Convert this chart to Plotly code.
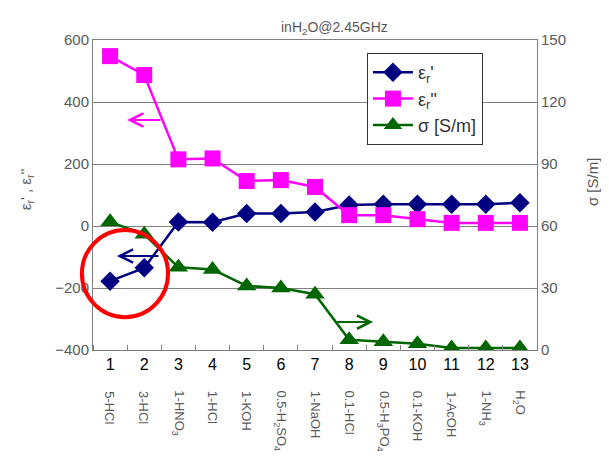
import plotly.graph_objects as go

categories = list(range(1, 14))
sample_labels = ["5-HCl", "3-HCl", "1-HNO<sub>3</sub>", "1-HCl", "1-KOH",
                 "0.5-H<sub>2</sub>SO<sub>4</sub>", "1-NaOH", "0.1-HCl",
                 "0.5-H<sub>3</sub>PO<sub>4</sub>", "0.1-KOH", "1-AcOH",
                 "1-NH<sub>3</sub>", "H<sub>2</sub>O"]
eps_real = [-178, -135, 13, 12, 40, 40, 45, 68, 70, 70, 70, 70, 75]
eps_imag = [548, 487, 215, 218, 145, 148, 126, 35, 35, 22, 10, 10, 10]
sigma = [62, 56, 40, 39, 31, 30, 27, 5, 4, 3, 1, 1, 1]

FONT = "Liberation Sans"
GRAY = "#595959"

fig = go.Figure()
fig.add_trace(go.Scatter(x=categories, y=eps_real, name="ε<sub>r</sub>'",
                         mode="lines+markers",
                         line=dict(color="#000080", width=2.5),
                         marker=dict(symbol="diamond", size=15, color="#000080")))
fig.add_trace(go.Scatter(x=categories, y=eps_imag, name="ε<sub>r</sub>''",
                         mode="lines+markers",
                         line=dict(color="#FF00FF", width=2.5),
                         marker=dict(symbol="square", size=16, color="#FF00FF")))
fig.add_trace(go.Scatter(x=categories, y=sigma, name="σ [S/m]", yaxis="y2",
                         mode="lines+markers",
                         line=dict(color="#006600", width=2.5),
                         marker=dict(symbol="triangle-up", size=17, color="#006600")))

annotations = []
for c, lab in zip(categories, sample_labels):
    annotations.append(dict(x=c, y=-0.125, xref="x", yref="paper", text=lab,
                            textangle=90, showarrow=False, xanchor="center",
                            yanchor="top", font=dict(family=FONT, size=13, color=GRAY)))

# direction arrows
annotations += [
    dict(x=1.5, y=342, ax=2.52, ay=342, xref="x", yref="y", axref="x", ayref="y",
         text="", showarrow=True, arrowhead=5, arrowsize=1.3, arrowwidth=2, arrowcolor="#FF00FF"),
    dict(x=1.2, y=-97, ax=2.46, ay=-97, xref="x", yref="y", axref="x", ayref="y",
         text="", showarrow=True, arrowhead=5, arrowsize=1.3, arrowwidth=2, arrowcolor="#000080"),
    dict(x=8.7, y=-310, ax=7.59, ay=-310, xref="x", yref="y", axref="x", ayref="y",
         text="", showarrow=True, arrowhead=5, arrowsize=1.3, arrowwidth=2, arrowcolor="#006600"),
]

# axis titles and chart title
annotations += [
    dict(x=-0.15, y=0.52, xref="paper", yref="paper", text="ε<sub>r</sub>' , ε<sub>r</sub>''",
         xanchor="center", yanchor="middle",
         textangle=-90, showarrow=False, font=dict(family=FONT, size=15, color=GRAY)),
    dict(x=1.125, y=0.54, xref="paper", yref="paper", text="σ [S/m]",
         xanchor="center", yanchor="middle",
         textangle=-90, showarrow=False, font=dict(family=FONT, size=15, color=GRAY)),
    dict(x=0.545, y=1.075, xref="paper", yref="paper", text="inH<sub>2</sub>O@2.45GHz",
         xanchor="center", showarrow=False, font=dict(family=FONT, size=14, color=GRAY)),
]

fig.update_layout(
    width=609, height=469,
    margin=dict(l=85, r=80, t=32, b=127, autoexpand=False),
    paper_bgcolor="white", plot_bgcolor="white",
    font=dict(family=FONT, color=GRAY),
    showlegend=True,
    legend=dict(x=0.617, y=0.958, xanchor="left", yanchor="top",
                bgcolor="white", bordercolor="#333333", borderwidth=1,
                font=dict(family=FONT, size=18, color="#333333"),
                itemwidth=40, tracegroupgap=2),
    xaxis=dict(range=[0.5, 13.5], tickvals=categories, ticktext=[str(c) for c in categories],
               ticks="", showgrid=False, zeroline=False,
               showline=True, linecolor="#808080", mirror=True,
               tickfont=dict(family=FONT, size=16, color="black"),
               minor=dict(tick0=0.5, dtick=1, ticks="inside", ticklen=5,
                          tickcolor="#808080", showgrid=False)),
    yaxis=dict(range=[-400, 600], dtick=200, showgrid=True, gridcolor="#808080",
               gridwidth=1, zeroline=False, showline=True, linecolor="#808080",
               ticks="inside", ticklen=5, tickcolor="#808080",
               tickfont=dict(family=FONT, size=15, color=GRAY)),
    yaxis2=dict(range=[0, 150], dtick=30, overlaying="y", side="right",
                showgrid=False, zeroline=False, showline=True, linecolor="#808080",
                ticks="inside", ticklen=5, tickcolor="#808080",
                tickfont=dict(family=FONT, size=15, color=GRAY)),
    annotations=annotations,
    shapes=[dict(type="circle", xref="paper", yref="paper",
                 x0=-0.025, x1=0.169, y0=0.106, y1=0.387,
                 line=dict(color="#FF0000", width=4))],
)

fig.write_html("out.html")
